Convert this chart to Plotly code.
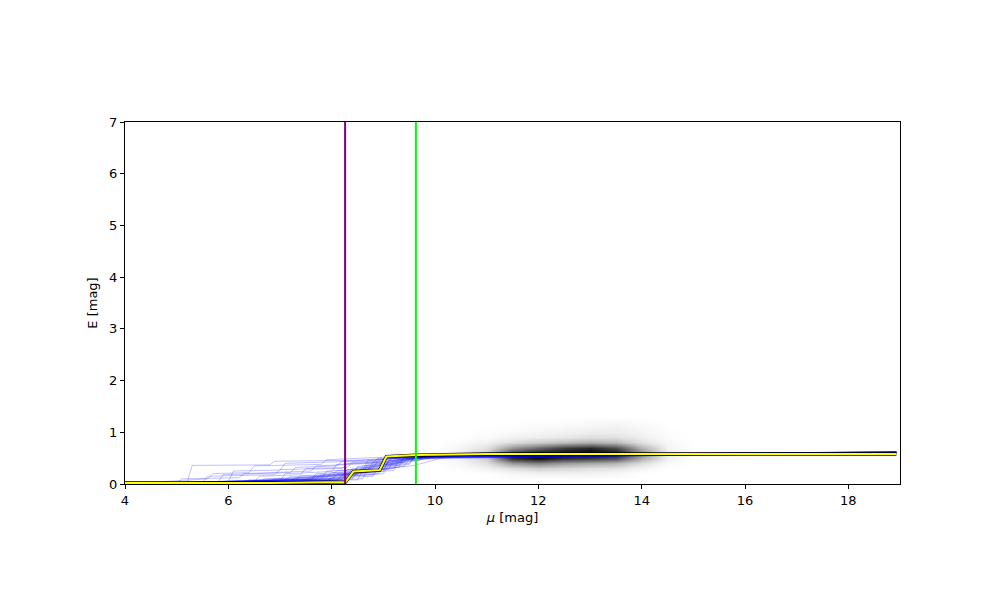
import plotly.graph_objects as go

# ---------------- data ----------------
# density image (grey blob), coarse grid
dens_x = [10.0, 10.5, 11.0, 11.5, 12.0, 12.5, 13.0, 13.5, 14.0, 14.5, 15.0]
dens_y = [0.1, 0.2, 0.3, 0.4, 0.5, 0.6, 0.7, 0.8, 0.9, 1.0, 1.1, 1.2, 1.3]
dens_z = [
    [0, 0, 0, 0, 0, 0, 0, 0, 0, 0, 0],
    [0, 0, 0, 0.03, 0.05, 0.05, 0.05, 0.03, 0, 0, 0],
    [0, 0.01, 0.05, 0.12, 0.18, 0.15, 0.12, 0.10, 0.04, 0, 0],
    [0, 0.03, 0.12, 0.38, 0.48, 0.38, 0.33, 0.28, 0.12, 0.02, 0],
    [0, 0.05, 0.20, 0.82, 0.95, 0.82, 0.78, 0.68, 0.32, 0.06, 0],
    [0, 0.06, 0.22, 0.80, 0.95, 0.95, 1.00, 0.92, 0.45, 0.08, 0],
    [0, 0.04, 0.12, 0.42, 0.60, 0.78, 0.86, 0.72, 0.30, 0.05, 0],
    [0, 0.02, 0.05, 0.13, 0.19, 0.25, 0.30, 0.26, 0.11, 0.03, 0],
    [0, 0, 0.02, 0.05, 0.07, 0.09, 0.12, 0.12, 0.06, 0.01, 0],
    [0, 0, 0.01, 0.02, 0.04, 0.05, 0.07, 0.07, 0.04, 0.01, 0],
    [0, 0, 0, 0.01, 0.02, 0.03, 0.04, 0.05, 0.03, 0, 0],
    [0, 0, 0, 0, 0.01, 0.01, 0.02, 0.03, 0.01, 0, 0],
    [0, 0, 0, 0, 0, 0, 0, 0, 0, 0, 0],
]

# sample extinction curves (blue), (mu, E) breakpoints
samples = [
    [(4, 0), (5.2, 0.02), (5.3, 0.36), (6.8, 0.37), (6.9, 0.44), (8.5, 0.46), (9.5, 0.52), (10.5, 0.58), (18.93, 0.60)],
    [(4, 0), (6.0, 0.05), (6.1, 0.25), (7.0, 0.27), (7.1, 0.40), (8.8, 0.45), (9.6, 0.55), (18.93, 0.61)],
    [(4, 0), (5.6, 0.10), (5.7, 0.20), (6.4, 0.22), (6.5, 0.35), (7.8, 0.38), (7.9, 0.47), (10.0, 0.56), (18.93, 0.60)],
    [(4, 0), (6.5, 0.04), (6.6, 0.15), (7.4, 0.18), (7.5, 0.30), (8.3, 0.32), (8.4, 0.42), (9.2, 0.45), (9.3, 0.53), (18.93, 0.62)],
    [(4, 0), (7.0, 0.06), (7.1, 0.20), (8.0, 0.24), (8.1, 0.38), (9.0, 0.42), (9.1, 0.52), (18.93, 0.60)],
    [(4, 0), (7.5, 0.08), (7.6, 0.14), (8.3, 0.16), (8.4, 0.30), (8.9, 0.33), (9.0, 0.48), (10.0, 0.55), (18.93, 0.62)],
    [(4, 0), (8.0, 0.10), (8.1, 0.20), (8.6, 0.22), (8.7, 0.38), (9.4, 0.42), (9.5, 0.52), (18.93, 0.61)],
    [(4, 0), (7.2, 0.05), (7.3, 0.12), (8.5, 0.18), (8.6, 0.35), (9.2, 0.38), (9.3, 0.50), (18.93, 0.60)],
    [(4, 0), (6.8, 0.06), (6.9, 0.10), (8.2, 0.14), (8.3, 0.28), (9.0, 0.30), (9.1, 0.45), (10.2, 0.56), (18.93, 0.62)],
    [(4, 0), (5.0, 0.02), (5.1, 0.10), (6.2, 0.12), (6.3, 0.20), (7.6, 0.25), (7.7, 0.35), (8.8, 0.40), (8.9, 0.50), (18.93, 0.61)],
    [(4, 0), (7.8, 0.10), (7.9, 0.25), (8.7, 0.28), (8.8, 0.42), (9.6, 0.48), (10.4, 0.56), (18.93, 0.60)],
    [(4, 0), (8.1, 0.08), (8.2, 0.18), (8.9, 0.20), (9.0, 0.35), (9.5, 0.40), (9.6, 0.52), (18.93, 0.61)],
    [(4, 0), (6.3, 0.03), (6.4, 0.08), (7.9, 0.12), (8.0, 0.22), (8.6, 0.26), (8.7, 0.45), (9.8, 0.55), (18.93, 0.62)],
    [(4, 0), (7.3, 0.07), (7.4, 0.16), (8.4, 0.20), (8.5, 0.32), (9.3, 0.36), (9.4, 0.50), (18.93, 0.60)],
    [(4, 0), (5.5, 0.03), (5.6, 0.15), (6.9, 0.18), (7.0, 0.28), (8.2, 0.30), (8.3, 0.40), (9.1, 0.43), (9.2, 0.52), (18.93, 0.61)],
    [(4, 0), (8.4, 0.12), (8.5, 0.25), (9.0, 0.28), (9.1, 0.42), (9.7, 0.46), (9.8, 0.54), (18.93, 0.62)],
    [(4, 0), (6.6, 0.05), (6.7, 0.10), (8.0, 0.15), (8.1, 0.26), (8.8, 0.30), (8.9, 0.46), (9.9, 0.55), (18.93, 0.60)],
    [(4, 0), (7.6, 0.09), (7.7, 0.20), (8.6, 0.24), (8.7, 0.34), (9.3, 0.40), (9.4, 0.53), (18.93, 0.61)],
    [(4, 0), (5.8, 0.04), (5.9, 0.18), (7.2, 0.22), (7.3, 0.32), (8.1, 0.35), (8.2, 0.44), (9.4, 0.50), (10.5, 0.57), (18.93, 0.60)],
    [(4, 0), (8.2, 0.10), (8.3, 0.16), (8.8, 0.18), (8.9, 0.30), (9.4, 0.34), (9.5, 0.48), (10.3, 0.56), (18.93, 0.62)],
    [(4, 0), (7.9, 0.06), (8.0, 0.12), (8.8, 0.15), (8.9, 0.28), (9.6, 0.36), (10.2, 0.52), (11.0, 0.58), (18.93, 0.61)],
    [(4, 0), (6.2, 0.04), (7.6, 0.07), (7.7, 0.16), (8.5, 0.19), (8.6, 0.30), (9.5, 0.45), (10.6, 0.57), (18.93, 0.62)],
    # low-lying curves forming the dense band
    [(4, 0), (6.0, 0.02), (8.3, 0.06), (8.4, 0.20), (9.0, 0.24), (9.1, 0.45), (10.0, 0.55), (18.93, 0.62)],
    [(4, 0), (5.5, 0.03), (7.0, 0.05), (8.2, 0.09), (8.3, 0.22), (9.2, 0.30), (9.3, 0.48), (18.93, 0.61)],
    [(4, 0), (5.0, 0.02), (6.5, 0.04), (8.0, 0.08), (8.1, 0.18), (8.9, 0.24), (9.0, 0.40), (9.8, 0.52), (18.93, 0.62)],
    [(4, 0), (6.8, 0.03), (8.5, 0.08), (8.6, 0.26), (9.3, 0.32), (9.4, 0.50), (18.93, 0.61)],
    [(4, 0), (5.8, 0.04), (7.4, 0.07), (8.3, 0.12), (8.4, 0.24), (9.1, 0.28), (9.2, 0.46), (10.1, 0.55), (18.93, 0.62)],
    [(4, 0), (4.8, 0.02), (6.0, 0.05), (7.7, 0.10), (7.8, 0.18), (8.7, 0.22), (8.8, 0.38), (9.7, 0.50), (18.93, 0.61)],
    [(4, 0), (6.4, 0.03), (8.1, 0.07), (8.2, 0.14), (9.0, 0.20), (9.1, 0.36), (9.9, 0.50), (10.8, 0.57), (18.93, 0.62)],
    [(4, 0), (5.3, 0.03), (7.1, 0.08), (7.2, 0.14), (8.4, 0.18), (8.5, 0.34), (9.4, 0.42), (9.5, 0.53), (18.93, 0.61)],
    [(4, 0), (7.0, 0.04), (8.6, 0.10), (8.7, 0.30), (9.5, 0.38), (9.6, 0.52), (18.93, 0.62)],
    [(4, 0), (5.9, 0.03), (7.8, 0.06), (8.4, 0.10), (8.5, 0.22), (9.2, 0.26), (9.3, 0.44), (10.0, 0.54), (18.93, 0.61)],
]

# best-fit curve (yellow with black outline)
best_mu = [4.0, 6.8, 8.27, 8.42, 8.93, 9.06, 9.63, 11.0, 18.93]
best_E = [0.02, 0.02, 0.04, 0.24, 0.27, 0.53, 0.56, 0.58, 0.58]

# vertical markers
purple_mu = 8.26
green_mu = 9.63

x_ticks = [4, 6, 8, 10, 12, 14, 16, 18]
y_ticks = [0, 1, 2, 3, 4, 5, 6, 7]

# ---------------- figure ----------------
fig = go.Figure()

fig.add_trace(go.Heatmap(
    x=dens_x, y=dens_y, z=dens_z, zmin=0, zmax=1, zsmooth="best",
    colorscale=[[0, "rgb(255,255,255)"], [1, "rgb(0,0,0)"]],
    showscale=False, hoverinfo="skip",
))

for s in samples:
    fig.add_trace(go.Scatter(
        x=[p[0] for p in s], y=[p[1] for p in s], mode="lines",
        line=dict(color="rgba(0,0,255,0.28)", width=0.9),
        showlegend=False, hoverinfo="skip",
    ))

fig.add_trace(go.Scatter(x=best_mu, y=best_E, mode="lines",
                         line=dict(color="black", width=3.3), showlegend=False))
fig.add_trace(go.Scatter(x=best_mu, y=best_E, mode="lines",
                         line=dict(color="yellow", width=2.0), showlegend=False))

fig.add_vline(x=purple_mu, line=dict(color="purple", width=2))
fig.add_vline(x=green_mu, line=dict(color="#00ff00", width=2))

axis_common = dict(
    showgrid=False, zeroline=False, showline=True, linecolor="black", linewidth=1,
    mirror=True, ticks="outside", ticklen=4, tickcolor="black", tickwidth=1,
    tickfont=dict(family="DejaVu Sans", size=13, color="black"),
)

fig.update_layout(
    width=1000, height=600,
    margin=dict(l=117, r=108, t=114, b=124),
    paper_bgcolor="white", plot_bgcolor="white",
    font=dict(family="DejaVu Sans", size=13, color="black"),
    xaxis=dict(range=[4, 19], tickvals=x_ticks, ticktext=[str(v) for v in x_ticks],
               title=dict(text="<i>μ</i> [mag]", standoff=6, font=dict(size=13)), **axis_common),
    yaxis=dict(range=[0, 7], tickvals=y_ticks, ticktext=[str(v) for v in y_ticks],
               title=dict(text="E [mag]", standoff=8, font=dict(size=13)), **axis_common),
    showlegend=False,
)

fig.write_html("out.html")
